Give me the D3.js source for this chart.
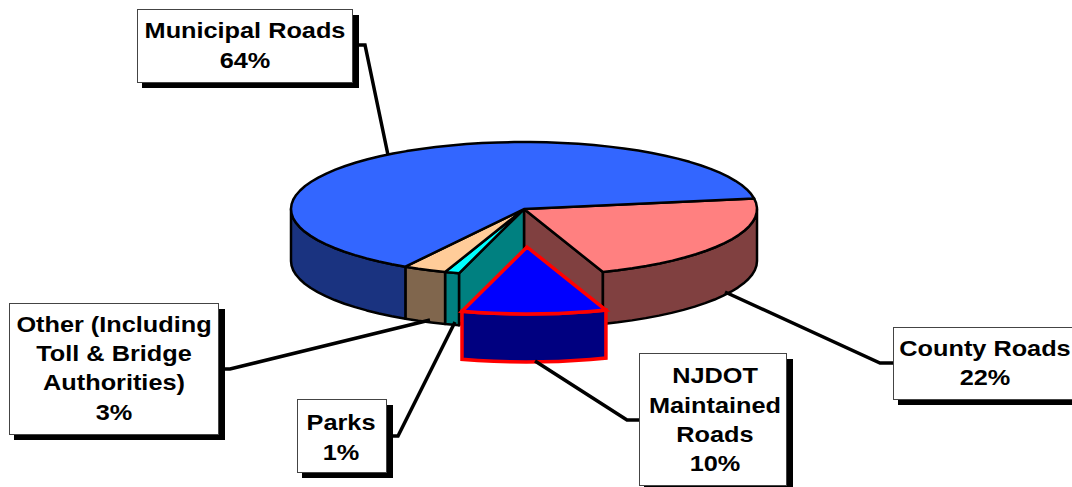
<!DOCTYPE html>
<html>
<head>
<meta charset="utf-8">
<script src="https://cdnjs.cloudflare.com/ajax/libs/d3/7.8.5/d3.min.js"></script>
<style>
  html, body { margin: 0; padding: 0; background: #fff; overflow: hidden; }
  svg { display: block; }
  text { font-family: "Liberation Sans", Arial, sans-serif; font-weight: bold; }
</style>
</head>
<body>
<div id="viz"></div>
<script>
// ── DATA ─────────────────────────────────────────────────────────────────────
const categories = ["County Roads", "NJDOT Maintained Roads", "Parks", "Other (Including Toll & Bridge Authorities)", "Municipal Roads"];
const shares = [22, 10, 1, 3, 64];
const labelLines = [
  ["County Roads", "22%"],
  ["NJDOT", "Maintained", "Roads", "10%"],
  ["Parks", "1%"],
  ["Other (Including", "Toll & Bridge", "Authorities)", "3%"],
  ["Municipal Roads", "64%"]
];
const topColors = ["#ff8080", "#0000ff", "#00ffff", "#ffcc99", "#3366ff"];
const sideColors = ["#804040", "#000080", "#008080", "#80664d", "#1a3380"];

// ── SETTINGS ─────────────────────────────────────────────────────────────────
const width = 1072, height = 487;
const cx = 524, cy = 209, rx = 233, ry = 67, depth = 52;
const explodedIndex = 1;
const explode = { dx: 3, dy: 38, depth: 48 };
const rimStep = Math.PI / 45;
const textStretch = 1.15; // the labels in the original are drawn wider than the font

// label boxes and leader lines, in the order of categories
const boxes = [
  { x: 893, y: 327, w: 190, h: 72, tx: 985, base: [356, 385], leader: [[893, 363], [880, 363], [725, 292]] },
  { x: 639, y: 353, w: 147, h: 132, tx: 715, base: [383, 413, 442, 471], leader: [[639, 420], [627, 420], [535, 361]] },
  { x: 297, y: 399, w: 89, h: 73, tx: 341, base: [430, 460], leader: [[386, 436], [398, 436], [455, 322]] },
  { x: 9, y: 303, w: 209, h: 131, tx: 114, base: [332, 361, 390, 420], leader: [[218, 369], [230, 369], [430, 320]] },
  { x: 137, y: 9, w: 215, h: 73, tx: 245, base: [38, 68], leader: [[352, 45], [365, 45], [388, 155]] }
];

const svg = d3.select("#viz").append("svg")
    .attr("viewBox", [0, 0, width, height])
    .attr("width", width)
    .attr("height", height);

// ── SCALES ───────────────────────────────────────────────────────────────────
const xScale = d3.scaleLinear().domain([-1, 1]).range([cx - rx, cx + rx]);
const yScale = d3.scaleLinear().domain([-1, 1]).range([cy - ry, cy + ry]);

const pie = d3.pie().sort(null)
    .startAngle(81 * Math.PI / 180)
    .endAngle((81 + 360) * Math.PI / 180);
const slices = pie(shares);

const line = d3.line().curve(d3.curveLinear);
const rimPoint = (a, dy = 0) => [xScale(Math.sin(a)), yScale(-Math.cos(a)) + dy];
const rimPoints = (a0, a1, dy = 0) => {
  const steps = Math.max(1, Math.ceil((a1 - a0) / rimStep));
  return d3.range(steps + 1).map(i => rimPoint(a0 + (a1 - a0) * i / steps, dy));
};
const center = [xScale(0), yScale(0)];

// ── PIE PIECES ───────────────────────────────────────────────────────────────
function drawTop(g, s) {
  g.append("path")
      .attr("d", line([center, ...rimPoints(s.startAngle, s.endAngle)]) + "Z")
      .attr("fill", topColors[s.index]);
}

// outer wall, only the part that faces the viewer
function drawRim(g, s, h) {
  const a0 = Math.max(s.startAngle, Math.PI / 2);
  const a1 = Math.min(s.endAngle, Math.PI * 1.5);
  if (a1 <= a0) return;
  const pts = [...rimPoints(a0, a1), ...rimPoints(a0, a1, h).reverse()];
  g.append("path")
      .attr("d", line(pts) + "Z")
      .attr("fill", sideColors[s.index]);
}

// cut face left open by the pulled out slice
function drawWall(g, a, color) {
  const p = rimPoint(a);
  g.append("path")
      .attr("d", line([center, p, [p[0], p[1] + depth], [center[0], center[1] + depth]]) + "Z")
      .attr("fill", color);
}

const body = svg.append("g")
    .attr("stroke", "#000")
    .attr("stroke-width", 2.5)
    .attr("stroke-linejoin", "round");

const rest = slices.filter(s => s.index !== explodedIndex);
drawWall(body, slices[explodedIndex].startAngle, sideColors[explodedIndex - 1]);
drawWall(body, slices[explodedIndex].endAngle, sideColors[explodedIndex + 1]);
rest.forEach(s => drawRim(body, s, depth));
rest.forEach(s => drawTop(body, s));

const out = svg.append("g")
    .attr("transform", `translate(${explode.dx},${explode.dy})`)
    .attr("stroke", "#ff0000")
    .attr("stroke-width", 3.5)
    .attr("stroke-linejoin", "miter");
drawRim(out, slices[explodedIndex], explode.depth);
drawTop(out, slices[explodedIndex]);

// ── LABELS ───────────────────────────────────────────────────────────────────
const labels = svg.selectAll("g.label")
    .data(slices)
    .join("g")
    .attr("class", "label");

labels.append("path")
    .attr("d", d => line(boxes[d.index].leader))
    .attr("fill", "none")
    .attr("stroke", "#000")
    .attr("stroke-width", 3.5);

labels.append("rect")
    .attr("x", d => boxes[d.index].x + 5)
    .attr("y", d => boxes[d.index].y + 6)
    .attr("width", d => boxes[d.index].w + 2)
    .attr("height", d => boxes[d.index].h)
    .attr("fill", "#000");

labels.append("rect")
    .attr("x", d => boxes[d.index].x + 0.5)
    .attr("y", d => boxes[d.index].y + 0.5)
    .attr("width", d => boxes[d.index].w)
    .attr("height", d => boxes[d.index].h)
    .attr("fill", "#fff")
    .attr("stroke", "#444")
    .attr("stroke-width", 1);

labels.each(function(d) {
  const b = boxes[d.index];
  d3.select(this).selectAll("text")
      .data(labelLines[d.index])
      .join("text")
      .attr("transform", (t, i) => `translate(${b.tx},${b.base[i]}) scale(${textStretch},1)`)
      .attr("text-anchor", "middle")
      .attr("font-size", "22px")
      .attr("fill", "#000")
      .text(t => t);
});
</script>
</body>
</html>
